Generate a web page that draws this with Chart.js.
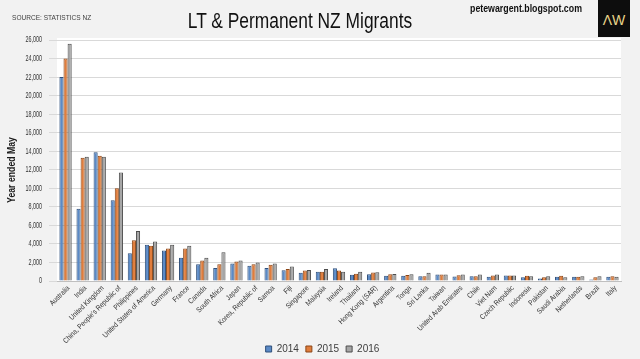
<!DOCTYPE html>
<html>
<head>
<meta charset="utf-8">
<script src="https://cdn.jsdelivr.net/npm/chart.js@4.4.1/dist/chart.umd.min.js"></script>
<style>
  html, body { margin: 0; padding: 0; background: #f2f2f2; }
  #wrap { position: relative; width: 640px; height: 359px; overflow: hidden; }
  #chart { position: absolute; left: 0; top: 0; }
  .src { position: absolute; left: 12px; top: 13px; font: 8px "Liberation Sans", sans-serif; color: #404040; transform: scaleX(0.82); transform-origin: left top; white-space: nowrap; }
  .ttl { position: absolute; left: 100px; width: 400px; top: 8px; text-align: center; font: 22px "Liberation Sans", sans-serif; color: #111; transform: scaleX(0.79); transform-origin: center top; white-space: nowrap; }
  .url { position: absolute; left: 470px; top: 2px; font: bold 11px "Liberation Sans", sans-serif; color: #111; transform: scaleX(0.8); transform-origin: left top; white-space: nowrap; }
  .logo { position: absolute; left: 598px; top: 0px; width: 32px; height: 37px; background: #0d0d0d; color: #e8d58a; font: 14px "Liberation Sans", sans-serif; text-align: center; line-height: 40px; }
</style>
</head>
<body>
<div id="wrap">
  <canvas id="chart" width="640" height="359"></canvas>
  <div class="src">SOURCE: STATISTICS NZ</div>
  <div class="ttl">LT &amp; Permanent NZ Migrants</div>
  <div class="url">petewargent.blogspot.com</div>
  <div class="logo">ΛW</div>
</div>
<script>
var countries = ["Australia", "India", "United Kingdom", "China, People's Republic of", "Philippines",
    "United States of America", "Germany", "France", "Canada", "South Africa", "Japan",
    "Korea, Republic of", "Samoa", "Fiji", "Singapore", "Malaysia", "Ireland", "Thailand",
    "Hong Kong (SAR)", "Argentina", "Tonga", "Sri Lanka", "Taiwan", "United Arab Emirates",
    "Chile", "Viet Nam", "Czech Republic", "Indonesia", "Pakistan", "Saudi Arabia",
    "Netherlands", "Brazil", "Italy"];

var y2014 = [22000, 7800, 13900, 8700, 3000, 3900, 3300, 2500, 1800, 1400, 1900,
    1650, 1400, 1170, 900, 1000, 1380, 670, 740, 560, 560, 520, 700, 490,
    520, 450, 600, 410, 270, 450, 450, 160, 450];
var y2015 = [24000, 13300, 13500, 10000, 4400, 3800, 3500, 3500, 2200, 1800, 2100,
    1800, 1750, 1300, 1140, 1000, 1130, 780, 920, 740, 650, 520, 700, 630,
    520, 600, 600, 560, 400, 560, 450, 400, 500];
var y2016 = [25600, 13400, 13400, 11700, 5400, 4250, 3900, 3800, 2500, 3100, 2200,
    2000, 1900, 1570, 1200, 1300, 1000, 1000, 950, 750, 740, 880, 700, 700,
    700, 700, 600, 500, 520, 400, 500, 500, 450];

var yTitle = 'Year ended May';

// narrow text (the source uses Arial Narrow, not installed here)
function narrowText(ctx, text, x, y, angle, squeeze, align) {
    ctx.save();
    ctx.translate(x, y);
    ctx.rotate(angle);
    ctx.scale(squeeze, 1);
    ctx.textAlign = align;
    ctx.textBaseline = 'middle';
    ctx.fillText(text, 0, 0);
    ctx.restore();
}

var ctx = document.getElementById('chart');
new Chart(ctx, {
    type: 'bar',
    data: {
        labels: countries,
        datasets: [
            { label: '2014', data: y2014, backgroundColor: '#5b8ac6', borderColor: '#2f4f7a', borderWidth: 1 },
            { label: '2015', data: y2015, backgroundColor: '#e07d3c', borderColor: '#8a4516', borderWidth: 1 },
            { label: '2016', data: y2016, backgroundColor: '#a6a6a6', borderColor: '#4d4d4d', borderWidth: 1 }
        ]
    },
    options: {
        responsive: false,
        animation: false,
        layout: { padding: { top: 40, right: 19, left: 0, bottom: 0 } },
        datasets: { bar: { categoryPercentage: 0.72, barPercentage: 1.0 } },
        plugins: {
            legend: {
                position: 'bottom',
                labels: {
                    boxWidth: 6, boxHeight: 6, padding: 7,
                    color: '#404040',
                    font: { family: "'Liberation Sans', sans-serif", size: 10 }
                }
            },
            tooltip: { enabled: false }
        },
        scales: {
            x: {
                grid: { display: false },
                border: { color: '#bfbfbf' },
                ticks: { display: false, autoSkip: false },
                afterFit: function(scale) { scale.height = 51; }
            },
            y: {
                min: 0, max: 26000,
                grid: { color: '#d9d9d9' },
                border: { display: false },
                ticks: { display: false, stepSize: 2000 },
                afterFit: function(scale) { scale.width = 57; }
            }
        }
    },
    plugins: [{
        id: 'plotBg',
        afterLayout: function(chart) {
            // legend sits a little lower and to the right in the original
            var lg = chart.legend;
            lg.left += 12; lg.right += 12;
            lg.top += 5; lg.bottom += 5;
        },
        beforeDraw: function(chart) {
            var a = chart.chartArea;
            chart.ctx.save();
            chart.ctx.fillStyle = '#ffffff';
            chart.ctx.fillRect(a.left, a.top - 2, a.right - a.left, a.bottom - a.top + 2);
            chart.ctx.restore();
        }
    }, {
        id: 'narrowLabels',
        afterDraw: function(chart) {
            var c = chart.ctx;
            var xs = chart.scales.x, ys = chart.scales.y;
            c.save();
            c.fillStyle = '#333333';
            c.font = "9px 'Liberation Sans', sans-serif";
            ys.ticks.forEach(function(t) {
                narrowText(c, t.value.toLocaleString('en-US'), 42, ys.getPixelForValue(t.value), 0, 0.6, 'right');
            });
            c.font = "7.5px 'Liberation Sans', sans-serif";
            countries.forEach(function(name, i) {
                narrowText(c, name, xs.getPixelForValue(i) + 3, xs.bottom - xs.height + 6, -Math.PI / 4, 0.85, 'right');
            });
            c.fillStyle = '#1a1a1a';
            c.font = "bold 10px 'Liberation Sans', sans-serif";
            narrowText(c, yTitle, 12, 170, -Math.PI / 2, 0.87, 'center');
            c.restore();
        }
    }]
});
</script>
</body>
</html>
